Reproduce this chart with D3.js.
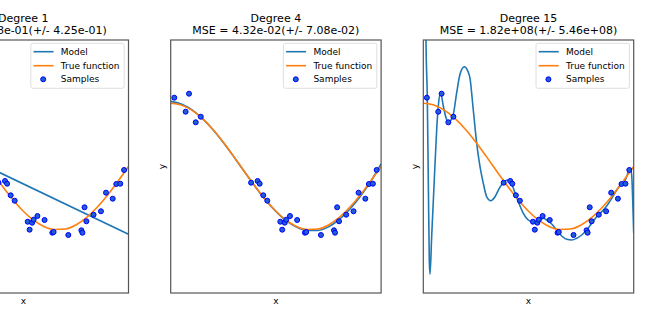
<!DOCTYPE html>
<html>
<head>
<meta charset="utf-8">
<script src="https://cdn.jsdelivr.net/npm/d3@7"></script>
<style>
  body { margin: 0; background: #fff; }
  svg { font-family: "DejaVu Sans", sans-serif; display: block; }
</style>
</head>
<body>
<div id="chart"></div>
<script>
// Data
// ==============================
var degrees = [1, 4, 15];
var mseLabels = ["MSE = 4.08e-01(+/- 4.25e-01)", "MSE = 4.32e-02(+/- 7.08e-02)", "MSE = 1.82e+08(+/- 5.46e+08)"];
var legendLabels = ["Model", "True function", "Samples"];

// samples (same in every panel)
var sampleX = [0.017, 0.071, 0.087, 0.119, 0.143, 0.382, 0.413, 0.423, 0.440, 0.459,
               0.521, 0.530, 0.542, 0.549, 0.567, 0.601, 0.638, 0.644, 0.714, 0.776,
               0.781, 0.791, 0.800, 0.834, 0.869, 0.893, 0.925, 0.942, 0.961, 0.979];
var sampleY = [1.088, 0.866, 1.151, 0.699, 0.787, -0.256, -0.229, -0.272, -0.455, -0.541,
               -0.873, -0.999, -0.889, -0.841, -0.783, -0.846, -1.047, -1.036, -1.083, -1.009,
               -1.047, -0.645, -0.866, -0.762, -0.708, -0.414, -0.509, -0.277, -0.272, -0.055];

// true function, read at steps of 0.05
var gridX = [0, 0.05, 0.1, 0.15, 0.2, 0.25, 0.3, 0.35, 0.4, 0.45, 0.5,
             0.55, 0.6, 0.65, 0.7, 0.75, 0.8, 0.85, 0.9, 0.95, 1];
var trueY = [1, 0.972, 0.891, 0.760, 0.588, 0.383, 0.156, -0.078, -0.309, -0.522, -0.707,
             -0.853, -0.951, -0.995, -0.988, -0.924, -0.809, -0.649, -0.454, -0.233, 0];

// degree 1 model (straight line)
var deg1X = [0, 1];
var deg1Y = [0.52, -1.07];

// degree 4 model
var deg4Y = [1.03, 0.99, 0.90, 0.76, 0.585, 0.38, 0.155, -0.08, -0.31, -0.525, -0.71,
             -0.86, -0.96, -1.01, -1.01, -0.955, -0.84, -0.68, -0.48, -0.24, 0.04];

// degree 15 model
var deg15X = [0.004, 0.0128, 0.019, 0.0238, 0.0285, 0.0318, 0.0399, 0.0509, 0.0637, 0.0713,
              0.0827, 0.0951, 0.1079, 0.1188, 0.1317, 0.1426, 0.1587, 0.1744, 0.1949, 0.21,
              0.222, 0.2376, 0.2538, 0.2695, 0.2852, 0.3013, 0.3203, 0.3408, 0.3612, 0.3802,
              0.3992, 0.4154, 0.4311, 0.4515, 0.4753, 0.4990, 0.5228, 0.5466, 0.5703, 0.5865,
              0.6103, 0.6340, 0.6578, 0.6816, 0.7053, 0.7291, 0.7529, 0.7766, 0.8004, 0.8241,
              0.8479, 0.8717, 0.8954, 0.9192, 0.9430, 0.9634, 0.9763, 0.9838, 0.9905, 0.9953, 1.0];
var deg15Y = [8, 2.0, 1.088, -0.213, -1.478, -1.704, -1.099, -0.308, 0.588, 0.957,
              1.157, 0.957, 0.772, 0.704, 0.735, 0.825, 1.167, 1.458, 1.578, 1.52,
              1.394, 0.893, 0.367, -0.003, -0.266, -0.478, -0.541, -0.478, -0.345, -0.256,
              -0.213, -0.240, -0.372, -0.556, -0.740, -0.846, -0.882, -0.873, -0.819, -0.846,
              -0.909, -1.004, -1.099, -1.151, -1.162, -1.135, -1.083, -1.004, -0.898, -0.794,
              -0.714, -0.624, -0.503, -0.372, -0.266, -0.187, -0.066, -0.028, -0.134, -0.530, -1.056];

var modelX = [deg1X, gridX, deg15X];
var modelY = [deg1Y, deg4Y, deg15Y];

// Part 1: Plot area
// ==============================
var svgWidth = 660;
var svgHeight = 330;
var panelLeft = [-81.9, 170.7, 423.3];
var panelTop = 40;
var chartWidth = 210.4;
var chartHeight = 253;

var svg = d3.select("#chart")
  .append("svg")
  .attr("width", svgWidth)
  .attr("height", svgHeight);

var xScale = d3.scaleLinear().domain([0, 1]).range([0, chartWidth]);
var yScale = d3.scaleLinear().domain([-2, 2]).range([chartHeight, 0]);

var line = d3.line()
  .x(d => xScale(d[0]))
  .y(d => yScale(d[1]))
  .curve(d3.curveMonotoneX);

// Part 2: one panel per degree
// ==============================
degrees.forEach(function(deg, i) {
  var g = svg.append("g")
    .attr("transform", `translate(${panelLeft[i]}, ${panelTop})`);

  g.append("clipPath")
    .attr("id", "clip" + i)
    .append("rect")
    .attr("width", chartWidth)
    .attr("height", chartHeight);

  var plot = g.append("g").attr("clip-path", `url(#clip${i})`);

  // Model line
  plot.append("path")
    .attr("d", line(d3.zip(modelX[i], modelY[i])))
    .attr("fill", "none")
    .attr("stroke", "#1f77b4")
    .attr("stroke-width", 1.6);

  // True function
  plot.append("path")
    .attr("d", line(d3.zip(gridX, trueY)))
    .attr("fill", "none")
    .attr("stroke", "#ff7f0e")
    .attr("stroke-width", 1.6);

  // Samples
  plot.append("g")
    .selectAll("circle")
    .data(d3.zip(sampleX, sampleY))
    .enter()
    .append("circle")
    .attr("cx", d => xScale(d[0]))
    .attr("cy", d => yScale(d[1]))
    .attr("r", 2.5)
    .attr("fill", "#1f5fd0")
    .attr("stroke", "#0000ff")
    .attr("stroke-width", 1);

  // frame
  g.append("rect")
    .attr("width", chartWidth)
    .attr("height", chartHeight)
    .attr("fill", "none")
    .attr("stroke", "#555")
    .attr("stroke-width", 1.2);

  // titles
  g.append("text")
    .attr("x", chartWidth / 2)
    .attr("y", 22.4 - panelTop)
    .attr("text-anchor", "middle")
    .attr("font-size", 11)
    .text("Degree " + deg);
  g.append("text")
    .attr("x", chartWidth / 2)
    .attr("y", 34.4 - panelTop)
    .attr("text-anchor", "middle")
    .attr("font-size", 11)
    .text(mseLabels[i]);

  // axis labels
  g.append("text")
    .attr("x", chartWidth / 2)
    .attr("y", chartHeight + 11.2)
    .attr("text-anchor", "middle")
    .attr("font-size", 9)
    .text("x");
  g.append("text")
    .attr("transform", `translate(-5.6, ${chartHeight / 2}) rotate(-90)`)
    .attr("text-anchor", "middle")
    .attr("font-size", 9)
    .text("y");

  // legend
  var lg = g.append("g")
    .attr("transform", `translate(${chartWidth - 4.3 - 93.4}, 3.3)`);
  lg.append("rect")
    .attr("width", 93.4)
    .attr("height", 45)
    .attr("rx", 2)
    .attr("fill", "#fff")
    .attr("fill-opacity", 0.8)
    .attr("stroke", "#d5d5d5")
    .attr("stroke-width", 0.8);
  var rows = [8.4, 22.4, 36];
  ["#1f77b4", "#ff7f0e"].forEach(function(c, k) {
    lg.append("line")
      .attr("x1", 2.7).attr("x2", 22.7)
      .attr("y1", rows[k]).attr("y2", rows[k])
      .attr("stroke", c)
      .attr("stroke-width", 1.6);
  });
  lg.append("circle")
    .attr("cx", 12.4).attr("cy", rows[2])
    .attr("r", 2.5)
    .attr("fill", "#1f5fd0")
    .attr("stroke", "#0000ff")
    .attr("stroke-width", 1);
  lg.selectAll(".lt")
    .data(legendLabels)
    .enter()
    .append("text")
    .attr("x", 30)
    .attr("y", (d, k) => rows[k] + 3.2)
    .attr("font-size", 9)
    .text(d => d);
});
</script>
</body>
</html>
